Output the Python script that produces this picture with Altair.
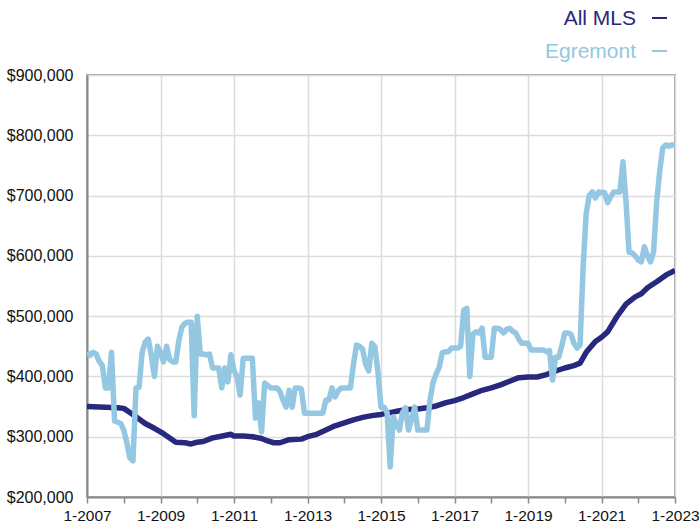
import altair as alt
import pandas as pd

# ---- data (values in thousands of dollars) ----
series_names = ["All MLS", "Egremont"]
series_colors = ["#27297d", "#93c7e2"]

# Egremont: one value per month starting 2007-01
egremont_start = "2007-01"
egremont_values = [
    440, 435, 440, 437, 425, 418, 381, 381, 440, 326,
    324, 322, 311, 290, 265, 260, 381, 382, 440, 457,
    462, 435, 400, 450, 440, 424, 450, 428, 424, 424,
    460, 482, 488, 490, 490, 335, 500, 437, 437, 436,
    437, 414, 414, 414, 381, 414, 391, 436, 410, 399,
    369, 430, 430, 430, 430, 331, 356, 308, 389, 385,
    381, 381, 381, 375, 361, 349, 377, 349, 381, 381,
    379, 339, 339, 339, 339, 339, 339, 339, 361, 361,
    381, 366, 376, 381, 381, 381, 381, 420, 452, 450,
    445, 420, 409, 455, 449, 407, 349, 349, 340, 250,
    333, 320, 311, 340, 348, 311, 330, 349, 311, 311,
    311, 311, 361, 390, 404, 415, 439, 441, 441, 447,
    447, 447, 450, 510, 513, 400, 470, 474, 472, 480,
    432, 432, 432, 480, 480, 478, 472, 478, 480, 475,
    472, 462, 455, 455, 455, 444, 444, 444, 444, 444,
    441, 443, 394, 432, 432, 450, 472, 472, 470, 455,
    447, 452, 582, 670, 700, 706, 696, 706, 705, 705,
    688, 698, 706, 706, 706, 756, 690, 606, 605, 600,
    593, 590, 615, 600, 590, 606, 688, 740, 779, 784,
    782, 784, 784,
]

# All MLS: readings at selected months
mls_months = [
    "2007-01", "2007-07", "2007-11", "2008-01", "2008-03", "2008-05", "2008-08",
    "2008-11", "2009-02", "2009-04", "2009-06", "2009-09", "2009-11", "2010-01",
    "2010-03", "2010-06", "2010-08", "2010-10", "2010-12", "2011-01", "2011-04",
    "2011-07", "2011-10", "2011-12", "2012-02", "2012-04", "2012-07", "2012-11",
    "2013-01", "2013-04", "2013-07", "2013-10", "2014-01", "2014-04", "2014-07",
    "2014-10", "2015-01", "2015-04", "2015-07", "2015-10", "2016-01", "2016-04",
    "2016-07", "2016-10", "2017-01", "2017-04", "2017-07", "2017-10", "2018-01",
    "2018-04", "2018-07", "2018-10", "2019-01", "2019-04", "2019-07", "2019-10",
    "2020-01", "2020-04", "2020-06", "2020-08", "2020-11", "2021-01", "2021-03",
    "2021-06", "2021-09", "2021-12", "2022-02", "2022-04", "2022-07", "2022-10",
    "2023-01",
]
mls_values = [
    350, 349, 348, 347, 340, 333, 322,
    314, 305, 298, 291, 290, 288, 291,
    292, 298, 300, 302, 304, 301, 301,
    300, 297, 293, 290, 290, 295, 296,
    300, 304, 311, 318, 323, 328, 332,
    335, 337, 340, 343, 345, 346, 348,
    351, 356, 360, 365, 371, 377, 381,
    386, 392, 398, 399, 399, 403, 409,
    414, 418, 422, 440, 458, 465, 474,
    499, 520, 532, 537, 547, 557, 568,
    576,
]

x_tick_years = list(range(2007, 2024))
y_tick_values = [200000, 300000, 400000, 500000, 600000, 700000, 800000, 900000]


def to_decimal_year(periods):
    return [p.year + (p.month - 1) / 12 for p in periods]


eg_periods = pd.period_range(egremont_start, periods=len(egremont_values), freq="M")
eg_df = pd.DataFrame({
    "t": to_decimal_year(eg_periods),
    "price": [v * 1000 for v in egremont_values],
})
mls_periods = [pd.Period(m, freq="M") for m in mls_months]
mls_df = pd.DataFrame({
    "t": to_decimal_year(mls_periods),
    "price": [v * 1000 for v in mls_values],
})

FONT = "Liberation Sans"

x_enc = alt.X(
    "t:Q",
    scale=alt.Scale(domain=[2007, 2023], nice=False, zero=False),
    axis=alt.Axis(
        values=x_tick_years,
        labelExpr="datum.value % 2 == 1 ? '1-' + datum.value : ''",
        labelOverlap=False,
        labelFlush=False,
        labelFontSize=15.5,
        labelColor="#111111",
        labelFont=FONT,
        labelPadding=5,
        tickSize=6,
        tickColor="#8a8a8a",
        tickWidth=1.5,
        domainColor="#8a8a8a",
        domainWidth=2,
        grid=True,
        gridColor="#dcdcdc",
        gridWidth=1.5,
        gridOpacity={"condition": {"test": "datum.value % 2 == 0", "value": 0}, "value": 1},
    ),
    title=None,
)
y_enc = alt.Y(
    "price:Q",
    scale=alt.Scale(domain=[200000, 900000], nice=False, zero=False),
    axis=alt.Axis(
        values=y_tick_values,
        format="$,d",
        labelFontSize=16,
        labelColor="#111111",
        labelFont=FONT,
        labelPadding=14,
        ticks=False,
        domainColor="#8a8a8a",
        domainWidth=2,
        grid=True,
        gridColor="#dcdcdc",
        gridWidth=1.5,
    ),
    title=None,
)

mls_line = alt.Chart(mls_df).mark_line(
    color=series_colors[0], strokeWidth=5.5, strokeJoin="round", clip=True
).encode(x=x_enc, y=y_enc)

eg_line = alt.Chart(eg_df).mark_line(
    color=series_colors[1], strokeWidth=5.5, strokeJoin="round", clip=True
).encode(x=x_enc, y=y_enc)

# custom legend: text on the left, short dash on the right, top-right corner
legend_layers = []
legend_text_y = [-50, -17]
legend_dash_y = [-57, -24]
for i, name in enumerate(series_names):
    d = pd.DataFrame({"name": [name]})
    legend_layers.append(
        alt.Chart(d).mark_text(
            align="right", baseline="alphabetic", fontSize=21, font=FONT,
            color=series_colors[i],
        ).encode(text="name:N", x=alt.value(549), y=alt.value(legend_text_y[i]))
    )
    legend_layers.append(
        alt.Chart(d).mark_rule(color=series_colors[i], strokeWidth=2).encode(
            x=alt.value(565), x2=alt.value(580), y=alt.value(legend_dash_y[i])
        )
    )

chart = alt.layer(mls_line, eg_line, *legend_layers).properties(
    width=588,
    height=422,
    autosize=alt.AutoSizeParams(type="none"),
    padding={"left": 87, "top": 75, "right": 25, "bottom": 28},
    background="white",
).configure_view(stroke="#a3a3a3", strokeWidth=2)

chart.save("out.html", embed_options={"renderer": "svg", "actions": False})
